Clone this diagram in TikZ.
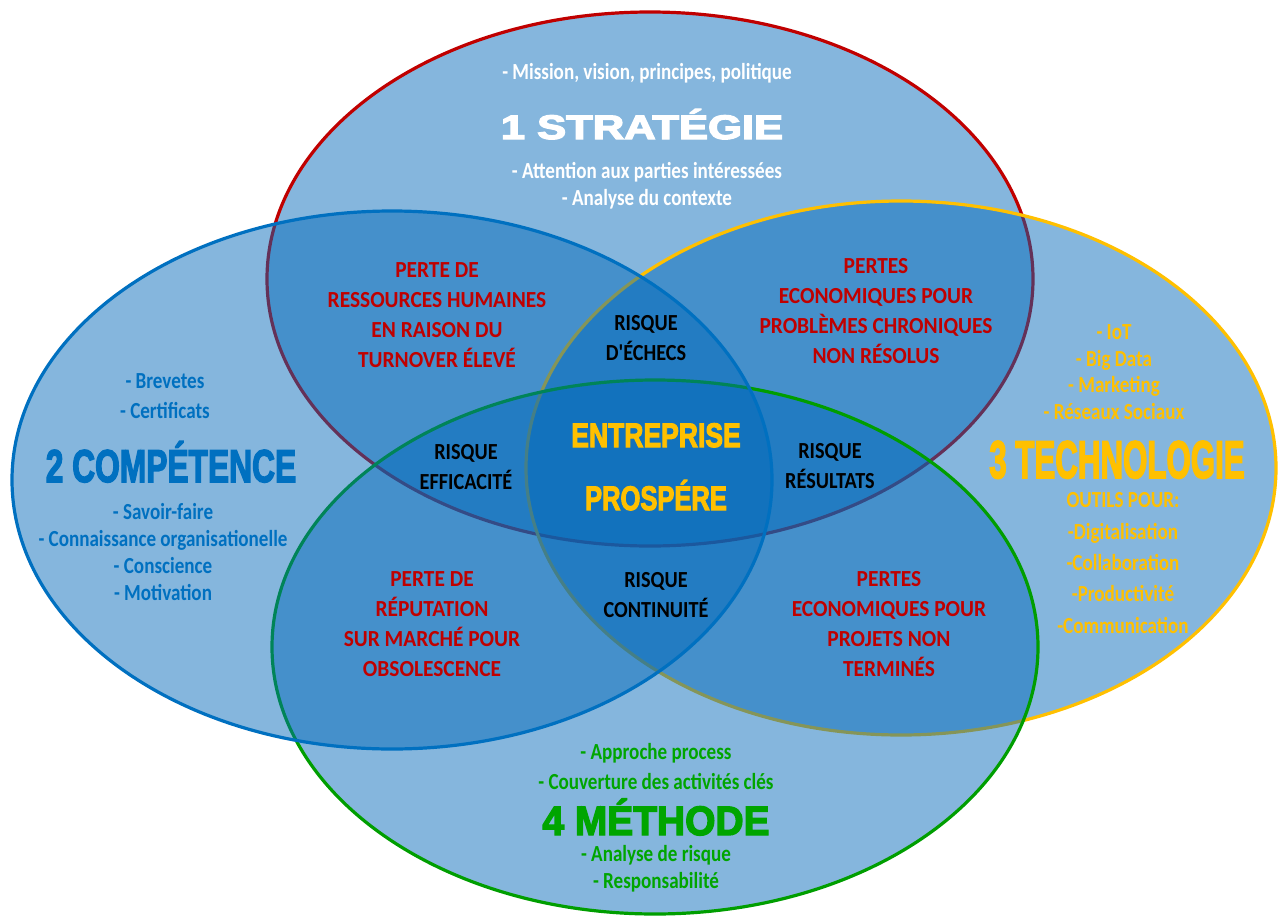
\documentclass[tikz,border=0pt]{standalone}
\usepackage{fontspec}
\usepackage{graphicx}
\usetikzlibrary{shapes.geometric}
\newfontfamily\bodyf[FakeStretch=0.83]{Carlito}
\newfontfamily\redf[FakeStretch=0.93]{Carlito}
\newfontfamily\blkf[FakeStretch=0.88]{Carlito}
\newfontfamily\titlef[FakeBold=3.5]{Liberation Sans}
\definecolor{basefill}{RGB}{0,104,185}
\definecolor{cred}{RGB}{192,0,0}
\definecolor{cyel}{RGB}{255,192,0}
\definecolor{cgreen}{RGB}{0,158,0}
\definecolor{tgreen}{RGB}{0,165,0}
\definecolor{cblue}{RGB}{0,112,192}
\definecolor{tred}{RGB}{192,0,0}
\begin{document}
\begin{tikzpicture}[x=1pt,y=-1pt,
  venn/.style={ellipse, inner sep=0pt, fill=basefill, fill opacity=0.48, line width=3.2pt},
  whitetxt/.style={align=center, inner sep=0pt, text=white, font=\bodyf\bfseries\fontsize{23}{27}\selectfont},
  redtxt/.style={align=center, inner sep=0pt, text=tred, font=\redf\bfseries\fontsize{23}{30}\selectfont},
  blktxt/.style={align=center, inner sep=0pt, text=black, font=\blkf\bfseries\fontsize{23}{30}\selectfont},
  bluetxt/.style={align=center, inner sep=0pt, text=cblue, font=\bodyf\bfseries\fontsize{23}{27}\selectfont},
  yeltxt/.style={align=center, inner sep=0pt, text=cyel, font=\bodyf\bfseries\fontsize{23}{27}\selectfont},
  greentxt/.style={align=center, inner sep=0pt, text=tgreen, font=\bodyf\bfseries\fontsize{23}{27}\selectfont},
  titletxt/.style={inner sep=0pt, anchor=base, font=\titlef\bfseries}]
\useasboundingbox (0,0) rectangle (1278,916);
\fill[white] (0,0) rectangle (1278,916);
% ellipses (drawing order matters for outline blending)
\node[venn, draw=cred, minimum width=766pt, minimum height=534pt] (strat) at (650,279) {};
\node[venn, draw=cyel, minimum width=750pt, minimum height=534pt] (techno) at (901,468) {};
\node[venn, draw=cgreen, minimum width=766pt, minimum height=534pt] (methode) at (655,647) {};
\node[venn, draw=cblue, minimum width=760pt, minimum height=538pt] (compet) at (392,480) {};
% 1 Strategie
\node[whitetxt] (s1) at (647,73) {- Mission, vision, principes, politique};
\node[titletxt, text=white] (s2) at (642,139) {\fontsize{34}{40}\selectfont\scalebox{1.28}[1]{1 STRATÉGIE}};
\node[whitetxt] (s3) at (647,186) {- Attention aux parties intéressées\\- Analyse du contexte};
% 2 Competence
\node[bluetxt, font=\bodyf\bfseries\fontsize{23}{30}\selectfont] (c1) at (165,396) {- Brevetes\\- Certificats};
\node[titletxt, text=cblue] (c2) at (171,482) {\fontsize{46}{50}\selectfont\scalebox{0.69}[1]{2 COMPÉTENCE}};
\node[bluetxt] (c3) at (163,552) {- Savoir-faire\\- Connaissance organisationelle\\- Conscience\\- Motivation};
% 3 Technologie
\node[yeltxt, font=\bodyf\bfseries\fontsize{23}{26.7}\selectfont] (y1) at (1114,372) {- IoT\\- Big Data\\- Marketing\\- Réseaux Sociaux};
\node[titletxt, text=cyel] (y2) at (1117,478) {\fontsize{53}{58}\selectfont\scalebox{0.59}[1]{3 TECHNOLOGIE}};
\node[yeltxt, font=\bodyf\bfseries\fontsize{23}{31.3}\selectfont] (y3) at (1123,563) {OUTILS POUR:\\-Digitalisation\\-Collaboration\\-Productivité\\-Communication};
% 4 Methode
\node[greentxt, font=\bodyf\bfseries\fontsize{23}{30}\selectfont] (g1) at (656,767) {- Approche process\\- Couverture des activités clés};
\node[titletxt, text=tgreen] (g2) at (656,835) {\fontsize{41}{46}\selectfont\scalebox{0.95}[1]{4 MÉTHODE}};
\node[greentxt] (g3) at (656,869) {- Analyse de risque\\- Responsabilité};
% centre
\node[titletxt, text=cyel] (e1) at (656,447) {\fontsize{34}{40}\selectfont\scalebox{0.78}[1]{ENTREPRISE}};
\node[titletxt, text=cyel] (e2) at (656,510) {\fontsize{34}{40}\selectfont\scalebox{0.75}[1]{PROSPÉRE}};
% pairwise losses
\node[redtxt] (r1) at (437,315) {PERTE DE\\RESSOURCES HUMAINES\\EN RAISON DU\\TURNOVER ÉLEVÉ};
\node[redtxt] (r2) at (876,311) {PERTES\\ECONOMIQUES POUR\\PROBLÈMES CHRONIQUES\\NON RÉSOLUS};
\node[redtxt] (r3) at (432,624) {PERTE DE\\RÉPUTATION\\SUR MARCHÉ POUR\\OBSOLESCENCE};
\node[redtxt] (r4) at (889,624) {PERTES\\ECONOMIQUES POUR\\PROJETS NON\\TERMINÉS};
% risks
\node[blktxt] (k1) at (646,338) {RISQUE\\D'ÉCHECS};
\node[blktxt] (k2) at (466,467) {RISQUE\\EFFICACITÉ};
\node[blktxt] (k3) at (830,466) {RISQUE\\RÉSULTATS};
\node[blktxt] (k4) at (656,595) {RISQUE\\CONTINUITÉ};
\end{tikzpicture}
\end{document}
